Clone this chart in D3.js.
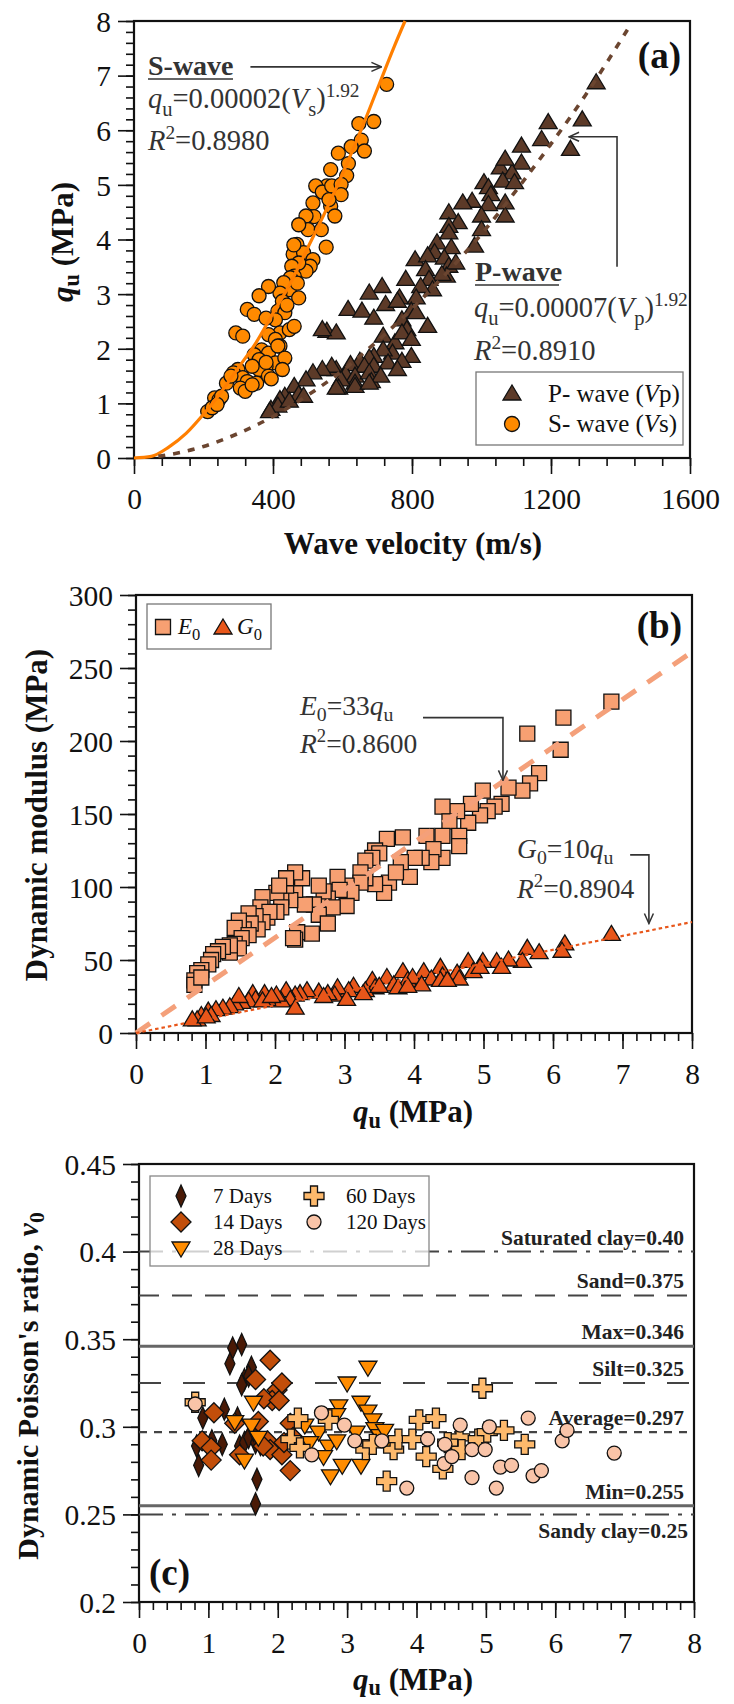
<!DOCTYPE html>
<html lang="en">
<head>
<meta charset="UTF-8">
<title>Wave velocity, dynamic modulus and Poisson's ratio vs qu</title>
<script src="https://cdnjs.cloudflare.com/ajax/libs/d3/7.8.5/d3.min.js"></script>
<style>
  body { margin: 0; background: #fff; }
  svg { display: block; font-family: "Liberation Serif", "Times New Roman", serif; }
</style>
</head>
<body>
<div id="chart"></div>
<script>
// ---------- (a) qu vs wave velocity ----------
const sVel = [727,647,690,654,663,625,588,617,612,566,
              555,523,542,569,596,596,566,578,561,515,
              518,495,501,474,539,553,469,458,488,515,
              507,495,474,454,461,450,447,474,431,420,
              427,387,360,414,434,407,326,346,380,420,
              447,461,293,313,387,407,420,367,387,414,
              346,360,407,434,427,380,360,340,299,286,
              313,326,353,387,266,279,306,320,340,232,
              245,252,212,225,239,460,440,470,380,395];
const sQu  = [6.84,6.12,6.16,5.82,5.62,5.70,5.58,5.39,5.17,5.28,
              4.98,4.98,4.87,4.98,5.01,4.82,4.61,4.43,4.73,4.67,
              4.42,4.43,4.18,4.27,4.18,3.86,3.91,3.73,3.76,3.63,
              3.51,3.42,3.57,3.51,3.33,3.30,3.08,2.93,3.21,3.02,
              2.87,3.14,2.97,2.69,2.66,2.53,2.72,2.63,2.56,2.29,
              2.35,2.41,2.29,2.23,2.26,2.17,2.05,1.98,1.92,2.05,
              1.89,1.80,1.74,1.83,1.62,1.68,1.62,1.68,1.62,1.56,
              1.47,1.40,1.37,1.50,1.37,1.50,1.28,1.22,1.34,1.10,
              1.07,1.13,0.85,0.92,0.98,3.90,2.80,3.20,1.75,1.45];
const pVel = [1330,1192,1290,1173,1256,1115,1115,1054,1088,1068,
              1007,1020,1061,1095,1027,1068,1020,973,946,1000,
              1068,906,933,906,1000,872,865,906,913,809,
              845,893,980,906,926,899,886,839,849,859,
              825,782,764,812,714,677,724,616,656,690,
              758,798,771,812,845,785,555,582,542,717,
              751,771,798,744,717,690,798,677,650,623,
              582,663,690,731,771,609,636,677,636,683,
              710,758,569,542,515,596,589,636,677,495,
              461,474,582,434,420,394,414,447,488,390];
const pQu  = [6.87,6.14,6.19,5.83,5.65,5.71,5.40,5.31,5.22,5.47,
              5.04,4.95,5.07,5.04,4.82,4.67,4.64,4.70,4.67,4.43,
              4.43,4.49,4.31,4.24,4.18,3.94,3.76,4.12,3.85,3.63,
              3.70,3.66,3.88,3.51,3.57,3.33,3.36,3.45,3.27,3.08,
              3.14,3.27,2.93,2.93,3.14,3.02,2.81,2.72,2.69,2.56,
              2.87,2.69,2.53,2.66,2.41,2.35,2.32,2.29,2.35,2.23,
              2.11,2.29,2.17,1.92,1.98,1.86,1.86,1.83,1.77,1.71,
              1.62,1.68,1.68,1.74,1.77,1.53,1.50,1.56,1.37,1.40,
              1.50,1.62,1.68,1.62,1.56,1.43,1.28,1.31,1.37,1.43,
              1.31,1.16,1.28,1.13,1.07,0.89,0.95,1.04,1.13,0.85];
// fitted curves as drawn in the figure
const sFitVel = [0,50,100,150,200,250,300,350,400,450,500,550,600,650,700,750,780];
const sFitQu  = [0,0.03,0.2,0.45,0.8,1.2,1.65,2.1,2.65,3.2,3.85,4.5,5.2,5.95,6.75,7.55,8.0];
const pFitVel = [70,100,200,300,400,500,600,700,800,900,1000,1100,1200,1300,1420];
const pFitQu  = [0.03,0.06,0.21,0.45,0.76,1.15,1.6,2.14,2.73,3.39,4.1,4.9,5.75,6.65,7.84];
const aXTicks = [0,400,800,1200,1600];
const aYTicks = [0,1,2,3,4,5,6,7,8];

// ---------- (b) dynamic modulus vs qu ----------
const eQu = [6.84,6.15,6.11,5.63,5.80,5.67,5.56,5.36,5.26,4.99,
             5.16,5.06,4.95,4.78,4.82,4.62,4.41,4.51,4.65,4.41,
             4.41,4.65,4.18,4.28,4.25,4.11,4.01,3.84,3.94,3.81,
             3.64,3.74,3.61,3.44,3.50,3.40,3.30,3.57,3.44,3.30,
             3.23,3.23,3.03,3.10,2.90,2.93,3.03,2.76,2.83,2.70,
             2.63,2.56,2.63,2.76,2.53,2.43,2.29,2.22,2.09,2.16,
             2.02,2.39,2.29,2.16,2.06,2.09,2.02,1.82,1.79,1.89,
             2.32,2.29,2.26,1.92,1.82,1.72,1.62,1.75,1.65,1.55,
             1.48,1.42,1.62,1.52,1.42,1.48,1.35,1.35,1.25,1.18,
             1.11,1.08,1.04,0.94,0.88,0.84,0.84,0.94];
const eMod = [227,216,194,205,178,171,166,168,157,166,
              155,152,149,144,157,152,155,145,135,135,
              120,128,135,126,117,120,120,134,107,117,
              103,110,133,125,123,120,118,96,102,106,
              110,103,101,96,107,98,87,92,86,97,
              101,88,81,75,68,88,98,91,93,101,
              96,106,110,106,101,86,83,93,86,79,
              69,64,65,83,76,80,82,71,75,71,
              77,72,67,65,61,58,55,60,59,56,
              54,50,47,43,41,36,33,38];
const gQu = [6.84,6.17,6.13,5.63,5.80,5.56,5.36,5.19,4.99,4.78,
             4.85,4.95,5.26,4.38,4.41,4.62,4.65,4.14,4.25,4.38,
             4.48,3.84,3.91,3.98,4.11,3.61,3.71,3.77,3.91,3.40,
             3.44,3.30,3.50,3.13,3.06,3.27,2.90,2.86,2.76,3.03,
             2.63,2.70,2.46,2.36,2.29,2.16,2.22,2.09,2.02,1.89,
             1.85,1.68,2.29,1.72,1.62,1.52,1.42,1.48,1.35,1.25,
             1.15,1.04,0.94,0.88,0.81,1.08,1.01,1.82,1.95];
const gMod = [67.5,61,56,58,55,49,50,49,49,49,
              42,45,45,45,39,41,37,42,37,36,
              36,42,36,38,33,38,33,31,32,36,
              31,29,32,32,29,27,31,26,27,23,
              28,25,29,27,26,29,23,22,26,23,
              27,27,17,23,22,21,20,25,18,17,
              16,15,12,9,9,12,11,22,25];
const eFitQu = [0,8], eFitMod = [0,261];
const gFitQu = [0,8], gFitMod = [0,76];
const bXTicks = [0,1,2,3,4,5,6,7,8];
const bYTicks = [0,50,100,150,200,250,300];

// ---------- (c) Poisson's ratio vs qu ----------
const d7Qu  = [1.35,1.48,1.31,1.62,1.52,1.48,1.58,1.23,0.92,0.83,0.86,1.42,1.45,1.52,1.58,1.68,1.75,1.70,1.68,1.65,1.05,1.20];
const d7Nu  = [0.345,0.347,0.336,0.334,0.327,0.324,0.329,0.310,0.305,0.289,0.278,0.305,0.289,0.291,0.294,0.291,0.290,0.270,0.256,0.298,0.292,0.290];
const d14Qu = [1.89,1.68,1.99,2.06,1.92,1.80,2.02,1.08,0.91,1.04,1.04,1.38,1.72,1.45,1.85,1.89,2.06,2.09,2.18,2.18,2.22,1.79];
const d14Nu = [0.338,0.327,0.321,0.325,0.315,0.316,0.315,0.308,0.292,0.288,0.281,0.302,0.303,0.284,0.292,0.287,0.284,0.291,0.302,0.275,0.294,0.289];
const d28Qu = [3.30,3.00,3.20,3.30,3.37,3.40,2.88,2.85,2.73,2.85,2.66,2.76,2.93,3.20,2.39,2.59,2.46,1.38,1.52,1.62,1.65,1.72,3.47,3.61,3.54,3.13];
const d28Nu = [0.334,0.325,0.314,0.309,0.304,0.299,0.312,0.307,0.289,0.292,0.283,0.272,0.278,0.278,0.301,0.297,0.291,0.303,0.281,0.301,0.314,0.294,0.295,0.291,0.298,0.297];
const d60Qu = [0.81,2.29,2.19,2.32,2.73,3.27,3.37,3.57,3.67,3.74,3.94,4.04,4.28,4.14,4.38,4.62,4.65,4.95,4.89,5.02,5.26,5.56,4.45];
const d60Nu = [0.314,0.305,0.293,0.288,0.304,0.287,0.290,0.269,0.287,0.293,0.293,0.304,0.305,0.283,0.276,0.294,0.287,0.322,0.293,0.297,0.298,0.290,0.291];
const d120Qu = [0.81,2.63,2.96,2.49,3.11,3.50,3.86,4.16,4.41,4.40,4.51,4.63,4.80,4.80,4.99,5.05,5.15,5.21,5.37,5.61,5.68,5.80,6.10,6.17,6.85];
const d120Nu = [0.313,0.308,0.301,0.284,0.292,0.292,0.265,0.293,0.290,0.279,0.283,0.301,0.287,0.271,0.287,0.300,0.265,0.277,0.278,0.305,0.272,0.275,0.292,0.298,0.285];
const refValues = [0.40,0.375,0.346,0.325,0.297,0.255,0.25];
const refLabels = ["Saturated clay=0.40","Sand=0.375","Max=0.346","Silt=0.325","Average=0.297","Min=0.255","Sandy clay=0.25"];
const cYTicks = [0.2,0.25,0.3,0.35,0.4,0.45];
const cYTickLabels = ["0.2","0.25","0.3","0.35","0.4","0.45"];
const ageNames = ["7 Days","14 Days","28 Days","60 Days","120 Days"];

// ---------- layout ----------
const W = 734, H = 1704;
const A = {l: 134, r: 690, t: 21, b: 458};
const B = {l: 136, r: 692, t: 595, b: 1033};
const C = {l: 139, r: 694, t: 1164, b: 1602};
const INK = "#111";

const svg = d3.select("#chart").append("svg").attr("width", W).attr("height", H);
svg.append("rect").attr("width", W).attr("height", H).attr("fill", "#fff");

const defs = svg.append("defs");
defs.append("marker").attr("id", "arr").attr("viewBox", "-1 -6 12 12")
  .attr("refX", 10).attr("refY", 0).attr("markerWidth", 12).attr("markerHeight", 12)
  .attr("markerUnits", "userSpaceOnUse").attr("orient", "auto")
  .append("path").attr("d", "M0,-4.5L10,0L0,4.5").attr("fill", "none")
  .attr("stroke", "#333").attr("stroke-width", 1.5);

// text with italic / sub / sup parts; "middle" is centred by measuring
function rich(parent, x, y, parts, size, opts = {}) {
  const t = parent.append("text").attr("x", x).attr("y", y)
    .attr("font-size", size).attr("fill", opts.fill || INK)
    .attr("font-weight", opts.bold ? "bold" : "normal")
    .attr("text-anchor", "start");
  const subK = opts.sub || 0.27;
  let cur = 0;
  parts.forEach(([str, fmt = ""]) => {
    let off = 0, fs = size;
    if (fmt.includes("sub")) { off = size * subK; fs = size * 0.72; }
    if (fmt.includes("sup")) { off = -size * 0.4; fs = size * 0.68; }
    t.append("tspan").text(str).attr("dy", off - cur).attr("font-size", fs)
      .attr("font-style", fmt.includes("i") ? "italic" : null);
    cur = off;
  });
  if (opts.anchor === "middle") {
    const bb = t.node().getBBox();
    t.attr("x", x - (bb.x + bb.width / 2 - x));
  }
  return t;
}
// vertical title: laid out horizontally, measured, then turned
function vTitle(cx, cy, parts, size, opts) {
  const g = svg.append("g");
  const inner = g.append("g");
  rich(inner, 0, 0, parts, size, opts);
  const bb = inner.node().getBBox();
  inner.attr("transform", `translate(${-(bb.x + bb.width / 2)},0)`);
  g.attr("transform", `translate(${cx},${cy}) rotate(-90)`);
}

function axes(box, x, y, xt, xl, xMinorStep, yt, yl, yMinorStep) {
  const xd = x.domain(), yd = y.domain();
  const xMinor = d3.range(xd[0], xd[1] + 1e-9, xMinorStep);
  const yMinor = d3.range(yd[0], yd[1] + 1e-9, yMinorStep);
  const style = g => {
    g.select(".domain").remove();
    g.selectAll("line").attr("stroke", INK).attr("stroke-width", 1.6);
    g.selectAll("text").attr("font-size", 29.5).attr("fill", INK)
      .attr("font-family", "Liberation Serif, serif");
  };
  svg.append("g").attr("transform", `translate(0,${box.b})`)
    .call(d3.axisBottom(x).tickValues(xMinor).tickSize(8).tickFormat("")).call(style);
  svg.append("g").attr("transform", `translate(0,${box.b})`)
    .call(d3.axisBottom(x).tickValues(xt).tickSize(16).tickFormat((d, i) => xl[i])).call(style)
    .selectAll("text").attr("y", 41).attr("dy", "0.35em");
  svg.append("g").attr("transform", `translate(${box.l},0)`)
    .call(d3.axisLeft(y).tickValues(yMinor).tickSize(8).tickFormat("")).call(style);
  svg.append("g").attr("transform", `translate(${box.l},0)`)
    .call(d3.axisLeft(y).tickValues(yt).tickSize(16).tickFormat((d, i) => yl[i])).call(style)
    .selectAll("text").attr("x", -23).attr("dy", "0.35em");
  svg.append("rect").attr("x", box.l).attr("y", box.t)
    .attr("width", box.r - box.l).attr("height", box.b - box.t)
    .attr("fill", "none").attr("stroke", INK).attr("stroke-width", 2.2);
}

const sym = {
  tri: "M0,-9L9,6L-9,6Z",
  triDown: "M-9,-6L9,-6L0,9Z",
  square: "M-7.5,-7.5H7.5V7.5H-7.5Z",
  thinDiamond: "M0,-11L5,0L0,11L-5,0Z",
  diamond: "M0,-10L10,0L0,10L-10,0Z",
  plus: "M-3.5,-10H3.5V-3.5H10V3.5H3.5V10H-3.5V3.5H-10V-3.5H-3.5Z"
};
function scatter(xs, ys, x, y, shape, fill, r) {
  const g = svg.append("g");
  const data = xs.map((v, i) => [v, ys[i]]);
  if (shape === "circle") {
    g.selectAll("circle").data(data).join("circle")
      .attr("cx", d => x(d[0])).attr("cy", d => y(d[1])).attr("r", r)
      .attr("fill", fill).attr("stroke", INK).attr("stroke-width", 1.3);
  } else {
    g.selectAll("path").data(data).join("path")
      .attr("d", sym[shape]).attr("transform", d => `translate(${x(d[0])},${y(d[1])})`)
      .attr("fill", fill).attr("stroke", INK).attr("stroke-width", 1.3);
  }
}
function symbolAt(g, cx, cy, shape, fill, r) {
  if (shape === "circle")
    g.append("circle").attr("cx", cx).attr("cy", cy).attr("r", r)
      .attr("fill", fill).attr("stroke", INK).attr("stroke-width", 1.3);
  else
    g.append("path").attr("d", sym[shape]).attr("transform", `translate(${cx},${cy})`)
      .attr("fill", fill).attr("stroke", INK).attr("stroke-width", 1.3);
}
function arrow(pts, x, y) {
  svg.append("path").attr("d", d3.line().x(d => x(d[0])).y(d => y(d[1]))(pts))
    .attr("fill", "none").attr("stroke", "#333").attr("stroke-width", 1.6)
    .attr("marker-end", "url(#arr)");
}

// ================= (a) =================
const aX = d3.scaleLinear().domain([0, 1600]).range([A.l, A.r]);
const aY = d3.scaleLinear().domain([0, 8]).range([A.b, A.t]);
axes(A, aX, aY, aXTicks, aXTicks.map(String), 80, aYTicks, aYTicks.map(String), 0.2);

scatter(pVel, pQu, aX, aY, "tri", "#5c3a28");
scatter(sVel, sQu, aX, aY, "circle", "#ff8a00", 7);

const curve = d3.line().curve(d3.curveMonotoneX);
svg.append("path").attr("d", curve(sFitVel.map((v, i) => [aX(v), aY(sFitQu[i])])))
  .attr("fill", "none").attr("stroke", "#ff7f00").attr("stroke-width", 3.2);
svg.append("path").attr("d", curve(pFitVel.map((v, i) => [aX(v), aY(pFitQu[i])])))
  .attr("fill", "none").attr("stroke", "#6b4530").attr("stroke-width", 3.6)
  .attr("stroke-dasharray", "7,8");

const ann = svg.append("g");
ann.append("text").attr("x", 148).attr("y", 75).attr("font-size", 28).attr("font-weight", "bold")
  .attr("fill", "#333").text("S-wave");
ann.append("line").attr("x1", 148).attr("x2", 233).attr("y1", 79).attr("y2", 79)
  .attr("stroke", "#333").attr("stroke-width", 1.6);
rich(ann, 148, 108, [["q","i"],["u","sub"],["=0.00002("],["V","i"],["s","sub"],[")"],["1.92","sup"]], 28.5, {fill: "#333"});
rich(ann, 148, 150, [["R","i"],["2","sup"],["=0.8980"]], 28.5, {fill: "#333"});
arrow([[335, 7.16], [712, 7.16]], aX, aY);

ann.append("text").attr("x", 475).attr("y", 281).attr("font-size", 28).attr("font-weight", "bold")
  .attr("fill", "#333").text("P-wave");
ann.append("line").attr("x1", 475).attr("x2", 559).attr("y1", 285).attr("y2", 285)
  .attr("stroke", "#333").attr("stroke-width", 1.6);
rich(ann, 474, 317, [["q","i"],["u","sub"],["=0.00007("],["V","i"],["p","sub"],[")"],["1.92","sup"]], 28.5, {fill: "#333"});
rich(ann, 474, 360, [["R","i"],["2","sup"],["=0.8910"]], 28.5, {fill: "#333"});
arrow([[1390, 3.5], [1390, 5.88], [1252, 5.88]], aX, aY);

ann.append("text").attr("x", 681).attr("y", 68).attr("font-size", 37).attr("font-weight", "bold")
  .attr("text-anchor", "end").attr("fill", INK).text("(a)");

// legend (a)
const la = svg.append("g");
la.append("rect").attr("x", 476).attr("y", 372).attr("width", 207).attr("height", 73)
  .attr("fill", "#fff").attr("stroke", "#777").attr("stroke-width", 1.3);
symbolAt(la, 512, 394, "tri", "#5c3a28");
symbolAt(la, 512, 424, "circle", "#ff8a00", 7.5);
rich(la, 548, 402, [["P- wave ("],["V","i"],["p)"]], 25);
rich(la, 548, 432, [["S- wave ("],["V","i"],["s)"]], 25);

// axis titles (a)
rich(svg, 413, 554, [["Wave velocity (m/s)"]], 31, {bold: true, anchor: "middle"});
vTitle(73, 242, [["q","i"],["u","sub"],[" (MPa)"]], 31, {bold: true, sub: 0.2});

// ================= (b) =================
const bX = d3.scaleLinear().domain([0, 8]).range([B.l, B.r]);
const bY = d3.scaleLinear().domain([0, 300]).range([B.b, B.t]);
axes(B, bX, bY, bXTicks, bXTicks.map(String), 0.2, bYTicks, bYTicks.map(String), 10);

scatter(eQu, eMod, bX, bY, "square", "#f7a072");
scatter(gQu, gMod, bX, bY, "tri", "#e8561a");
svg.append("path").attr("d", d3.line()(eFitQu.map((v, i) => [bX(v), bY(eFitMod[i])])))
  .attr("stroke", "#f4a07a").attr("stroke-width", 5).attr("stroke-dasharray", "17,14").attr("fill", "none");
svg.append("path").attr("d", d3.line()(gFitQu.map((v, i) => [bX(v), bY(gFitMod[i])])))
  .attr("stroke", "#e8561a").attr("stroke-width", 2.2).attr("stroke-dasharray", "3.5,3").attr("fill", "none");

const annB = svg.append("g");
rich(annB, 300, 715, [["E","i"],["0","sub"],["=33"],["q","i"],["u","sub"]], 27.5, {fill: "#333", sub: 0.22});
rich(annB, 300, 753, [["R","i"],["2","sup"],["=0.8600"]], 27.5, {fill: "#333"});
arrow([[4.13, 216], [5.28, 216], [5.28, 173]], bX, bY);
rich(annB, 517, 858, [["G","i"],["0","sub"],["=10"],["q","i"],["u","sub"]], 27.5, {fill: "#333", sub: 0.22});
rich(annB, 517, 898, [["R","i"],["2","sup"],["=0.8904"]], 27.5, {fill: "#333"});
arrow([[7.11, 122], [7.38, 122], [7.38, 75]], bX, bY);
annB.append("text").attr("x", 682).attr("y", 638).attr("font-size", 37).attr("font-weight", "bold")
  .attr("text-anchor", "end").attr("fill", INK).text("(b)");

const lb = svg.append("g");
lb.append("rect").attr("x", 147).attr("y", 604).attr("width", 124).attr("height", 45)
  .attr("fill", "#fff").attr("stroke", "#777").attr("stroke-width", 1.3);
symbolAt(lb, 163, 627, "square", "#f7a072");
rich(lb, 178, 634, [["E","i"],["0","sub"]], 23);
symbolAt(lb, 223, 628, "tri", "#e8561a");
rich(lb, 237, 634, [["G","i"],["0","sub"]], 23);

rich(svg, 413, 1122, [["q","i"],["u","sub"],[" (MPa)"]], 31, {bold: true, anchor: "middle", sub: 0.2});
vTitle(47, 815, [["Dynamic modulus (MPa)"]], 31, {bold: true});

// ================= (c) =================
const cX = d3.scaleLinear().domain([0, 8]).range([C.l, C.r]);
const cY = d3.scaleLinear().domain([0.2, 0.45]).range([C.b, C.t]);
axes(C, cX, cY, bXTicks, bXTicks.map(String), 0.2, cYTicks, cYTickLabels, 0.01);

const refStyle = [
  {dash: "24,9,4,9", w: 2, c: "#444"},
  {dash: "20,13", w: 2, c: "#444"},
  {dash: null, w: 3, c: "#666"},
  {dash: "22,22", w: 2, c: "#444"},
  {dash: "8,7", w: 2.2, c: "#444"},
  {dash: null, w: 3, c: "#666"},
  {dash: "24,9,4,9", w: 2, c: "#444"}
];
const refG = svg.append("g");
refValues.forEach((v, i) => {
  refG.append("line").attr("x1", C.l).attr("x2", C.r).attr("y1", cY(v)).attr("y2", cY(v))
    .attr("stroke", refStyle[i].c).attr("stroke-width", refStyle[i].w)
    .attr("stroke-dasharray", refStyle[i].dash);
  const below = i === refValues.length - 1;
  refG.append("text").attr("x", below ? 688 : 684).attr("y", cY(v) + (below ? 24 : -7))
    .attr("text-anchor", "end").attr("font-size", 21.5).attr("font-weight", "bold")
    .attr("fill", "#222").text(refLabels[i]);
});

const ageStyle = [
  {shape: "thinDiamond", fill: "#4a1a06"},
  {shape: "diamond", fill: "#c24e0a"},
  {shape: "triDown", fill: "#ff8c00"},
  {shape: "plus", fill: "#fdb96c"},
  {shape: "circle", fill: "#f9c4a8"}
];
scatter(d7Qu, d7Nu, cX, cY, ageStyle[0].shape, ageStyle[0].fill);
scatter(d14Qu, d14Nu, cX, cY, ageStyle[1].shape, ageStyle[1].fill);
scatter(d28Qu, d28Nu, cX, cY, ageStyle[2].shape, ageStyle[2].fill);
scatter(d60Qu, d60Nu, cX, cY, ageStyle[3].shape, ageStyle[3].fill);
scatter(d120Qu, d120Nu, cX, cY, ageStyle[4].shape, ageStyle[4].fill, 7);

const lc = svg.append("g");
lc.append("rect").attr("x", 150).attr("y", 1176).attr("width", 279).attr("height", 90)
  .attr("fill", "#fff").attr("fill-opacity", 0.75).attr("stroke", "#888").attr("stroke-width", 1.3);
const legPos = [[181, 1196], [181, 1222], [181, 1248], [314, 1196], [314, 1222]];
ageNames.forEach((n, i) => {
  const [sx, sy] = legPos[i];
  symbolAt(lc, sx, sy, ageStyle[i].shape, ageStyle[i].fill, 7);
  lc.append("text").attr("x", sx + 32).attr("y", sy + 7).attr("font-size", 21)
    .attr("fill", INK).text(n);
});

svg.append("text").attr("x", 149).attr("y", 1585).attr("font-size", 37).attr("font-weight", "bold")
  .attr("fill", INK).text("(c)");
rich(svg, 413, 1690, [["q","i"],["u","sub"],[" (MPa)"]], 31, {bold: true, anchor: "middle", sub: 0.16});
vTitle(38, 1386, [["Dynamic Poisson's ratio, "],["ν","i"],["0","sub"]], 30, {bold: true, sub: 0.2});
</script>
</body>
</html>
